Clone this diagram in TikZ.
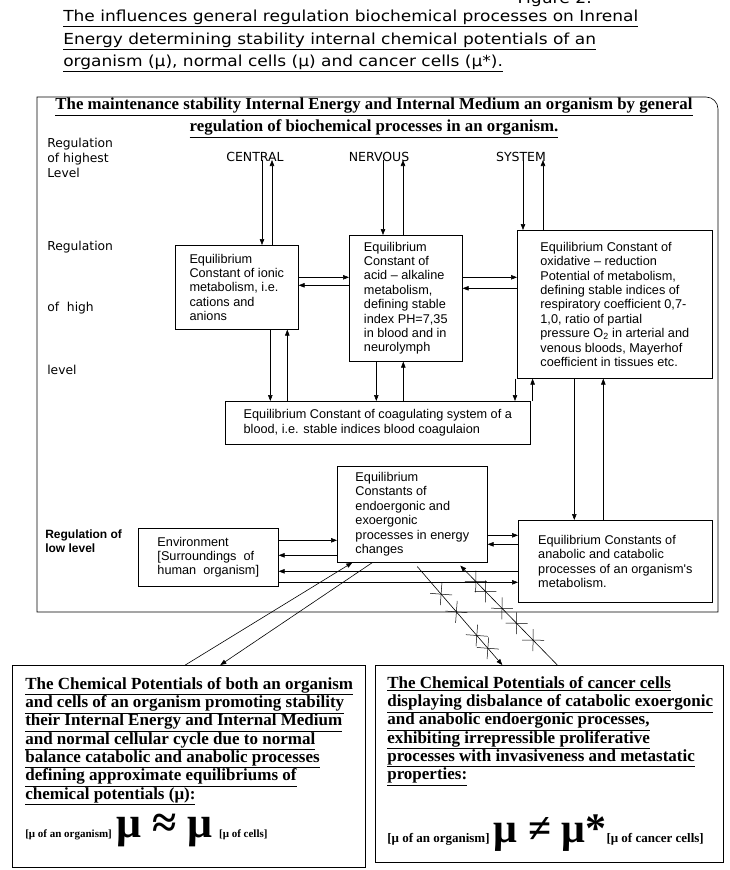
\documentclass[tikz,border=0pt]{standalone}
\usepackage{fontspec}
\setmainfont{Liberation Serif}
\newfontfamily\arialfont{Liberation Sans}
\newfontfamily\verdfont{DejaVu Sans}
\newfontfamily\titlefont[FakeStretch = 1.12]{DejaVu Sans}
\usetikzlibrary{positioning}
\usetikzlibrary{arrows.meta}
\usetikzlibrary{shapes.misc}

\tikzset{
    eqbox/.style = {draw, align = left, anchor = north west, inner sep = 0pt,
        font = {\arialfont\fontsize{12.7}{14.4}\selectfont}},
    rowlabel/.style = {anchor = west, align = left, inner sep = 0pt,
        font = {\verdfont\fontsize{12.3}{15}\selectfont}},
    cns/.style = {inner sep = 0pt, font = {\verdfont\fontsize{12.5}{14}\selectfont}},
    mubox/.style = {draw, anchor = north west, inner sep = 0pt},
    mutext/.style = {anchor = north west, align = left, inner sep = 0pt,
        font = {\bfseries\fontsize{17}{18.3}\selectfont}},
    xmark/.style = {cross out, draw, minimum size = 15pt, inner sep = 0pt, sloped, line width = 0.5pt},
}

\begin{document}
\begin{tikzpicture}
        [x = 1pt, y = -1pt, line width = 0.6pt,
        >={Triangle[length = 6pt, width = 4.5pt]}]
        \useasboundingbox (0, 0) rectangle (730, 870);
        % title of the figure
        \node (fig) [anchor = base east, inner sep = 0pt, font = {\titlefont\fontsize{15.3}{18}\selectfont}]
            at (592, 4) {Figure 2.};
        \node (title) [anchor = north west, align = left, inner sep = 0pt,
            font = {\titlefont\fontsize{15.2}{22.5}\selectfont}] at (63, 10)
            {\underline{The influences general regulation biochemical processes on Inrenal}\\
             \underline{Energy determining stability internal chemical potentials of an}\\
             \underline{organism (μ), normal cells (μ) and cancer cells (μ*).}};
        % frame of the organism
        \draw (37, 612) -- (37, 97) -- (706, 97) arc[start angle = -90, end angle = 0, radius = 12] -- (718, 612) -- cycle;
        \node (head) [align = center, inner sep = 0pt, font = {\bfseries\fontsize{16.8}{22}\selectfont}] at (374, 118)
            {\underline{The maintenance stability Internal Energy and Internal Medium an organism by general}\\
             \underline{regulation of biochemical processes in an organism.}};
        \node (highest) [rowlabel] at (47, 158) {Regulation\\of highest\\Level};
        \node (high1) [rowlabel] at (47, 247) {Regulation};
        \node (high2) [rowlabel] at (47, 308) {of\ \ high};
        \node (high3) [rowlabel] at (47, 370) {level};
        \node (low) [rowlabel, font = {\arialfont\bfseries\fontsize{12}{13.5}\selectfont}] at (45, 541) {Regulation of\\low level};
        \node (central) [cns] at (255, 157) {CENTRAL};
        \node (nervous) [cns] at (379, 157) {NERVOUS};
        \node (system) [cns] at (521, 157) {SYSTEM};
        % equilibrium constants
        \node (ionic) [eqbox, minimum width = 123pt, minimum height = 84pt] at (175, 245)
            {Equilibrium\\Constant of ionic\\metabolism, i.e.\\cations and\\anions};
        \node (acid) [eqbox, minimum width = 113pt, minimum height = 126pt] at (349, 235)
            {Equilibrium\\Constant of\\acid – alkaline\\metabolism,\\defining stable\\index PH=7,35\\in blood and in\\neurolymph};
        \node (oxid) [eqbox, minimum width = 195pt, minimum height = 148pt] at (517, 230)
            {Equilibrium Constant of\\oxidative – reduction\\Potential of metabolism,\\defining stable indices of\\respiratory coefficient 0,7-\\1,0, ratio of partial\\pressure O\textsubscript{2} in arterial and\\venous bloods, Mayerhof\\coefficient in tissues etc.};
        \node (coag) [eqbox, minimum width = 305pt, minimum height = 43pt] at (225, 401)
            {Equilibrium Constant of coagulating system of a\\blood, i.e. stable indices blood coagulaion};
        \node (energy) [eqbox, minimum width = 150pt, minimum height = 96pt] at (337, 466)
            {Equilibrium\\Constants of\\endoergonic and\\exoergonic\\processes in energy\\changes};
        \node (env) [eqbox, minimum width = 140pt, minimum height = 58pt] at (138, 528)
            {Environment\\{[}Surroundings\ \ of\\human\ \ organism{]}};
        \node (anabolic) [eqbox, minimum width = 194pt, minimum height = 82pt] at (518, 520)
            {Equilibrium Constants of\\anabolic and catabolic\\processes of an organism's\\metabolism.};
        % chemical potentials
        \node (normal) [mubox, minimum width = 353pt, minimum height = 202pt] at (12, 665) {};
        \node (normaltext) [mutext] at ([xshift = 13pt, yshift = -12pt]normal.north west)
            {\underline{The Chemical Potentials of both an organism}\\
             \underline{and cells of an organism promoting stability}\\
             \underline{their Internal Energy and Internal Medium}\\
             \underline{and normal cellular cycle due to normal}\\
             \underline{balance catabolic and anabolic processes}\\
             \underline{defining approximate equilibriums of}\\
             \underline{chemical potentials (μ):}\\[8pt]
             {\fontsize{11}{12}\selectfont[μ of an organism]}
             {\fontsize{44}{44}\selectfont μ ≈ μ}
             {\fontsize{11}{12}\selectfont\ [μ of cells]}};
        \node (cancer) [mubox, minimum width = 348pt, minimum height = 197pt] at (375, 665) {};
        \node (cancertext) [mutext] at ([xshift = 12pt, yshift = -11pt]cancer.north west)
            {\underline{The Chemical Potentials of cancer cells}\\
             \underline{displaying disbalance of catabolic exoergonic}\\
             \underline{and anabolic endoergonic processes,}\\
             \underline{exhibiting irrepressible proliferative}\\
             \underline{processes with invasiveness and metastatic}\\
             \underline{properties:}\\[28pt]
             {\fontsize{13}{14}\selectfont[μ of an organism]}
             {\fontsize{42}{42}\selectfont μ ≠ μ*}{\fontsize{13}{14}\selectfont[μ of cancer cells]}};
        % central nervous system
        \draw[->] ([xshift = 7pt, yshift = -3pt]central.center) -- ([xshift = 7pt]central.center |- ionic.north);
        \draw[->] ([xshift = 17pt]central.center |- ionic.north) -- ([xshift = 17pt, yshift = -3pt]central.center);
        \draw[->] ([xshift = 4pt, yshift = -3pt]nervous.center) -- ([xshift = 4pt]nervous.center |- acid.north);
        \draw[->] ([xshift = 24pt]nervous.center |- acid.north) -- ([xshift = 24pt, yshift = -3pt]nervous.center);
        \draw[->] ([xshift = 2pt, yshift = -3pt]system.center) -- ([xshift = 2pt]system.center |- oxid.north);
        \draw[->] ([xshift = 22pt]system.center |- oxid.north) -- ([xshift = 22pt, yshift = -3pt]system.center);
        % between the constants
        \draw[->] ([yshift = 10pt]ionic.east) -- ([yshift = 10pt]ionic.east -| acid.west);
        \draw[->] ([yshift = 2pt]ionic.east -| acid.west) -- ([yshift = 2pt]ionic.east);
        \draw[->] ([yshift = 27pt]oxid.west -| acid.east) -- ([yshift = 27pt]oxid.west);
        \draw[->] ([yshift = 16pt]oxid.west) -- ([yshift = 16pt]oxid.west -| acid.east);
        \draw[->] ([xshift = 33.5pt]ionic.south) -- ([xshift = 33.5pt]ionic.south |- coag.north);
        \draw[->] ([xshift = 50.5pt]ionic.south |- coag.north) -- ([xshift = 50.5pt]ionic.south);
        \draw[->] ([xshift = -29.5pt]acid.south) -- ([xshift = -29.5pt]acid.south |- coag.north);
        \draw[->] ([xshift = -2.5pt]acid.south |- coag.north) -- ([xshift = -2.5pt]acid.south);
        \draw[->] ([xshift = -2pt]oxid.south west) -- ([xshift = -2pt]oxid.south west |- coag.north);
        \draw[->] ([xshift = 2pt]coag.north east) -- ([xshift = 2pt]coag.north east |- oxid.south);
        \draw[->] ([xshift = -40.5pt]oxid.south) -- ([xshift = -40.5pt]oxid.south |- anabolic.north);
        \draw[->] ([xshift = -11.5pt]oxid.south |- anabolic.north) -- ([xshift = -11.5pt]oxid.south);
        % low level
        \draw[->] ([yshift = 17pt]env.east) -- ([yshift = 17pt]env.east -| energy.west);
        \draw[->] ([yshift = 2pt]env.east -| energy.west) -- ([yshift = 2pt]env.east);
        \draw[->] ([yshift = -14pt]env.east -| anabolic.west) -- ([yshift = -14pt]env.east);
        \draw[->] ([yshift = -25pt]env.east) -- ([yshift = -25pt]env.east -| anabolic.west);
        \draw[->] ([yshift = -21pt]energy.east) -- ([yshift = -21pt]energy.east -| anabolic.west);
        \draw[->] ([yshift = -30pt]energy.east -| anabolic.west) -- ([yshift = -30pt]energy.east);
        % to the chemical potentials
        \draw[->] ([xshift = -3.5pt]normal.north) -- ([xshift = -60pt]energy.south);
        \draw[->] ([xshift = -40pt]energy.south) -- ([xshift = 31.5pt]normal.north);
        \draw[->] ([xshift = 5pt, yshift = -4pt]energy.south) --
            node[xmark, pos = .28] {} node[xmark, pos = .46] {} node[xmark, pos = .7] {} node[xmark, pos = .83] {}
            ([xshift = -47pt]cancer.north);
        \draw[->] ([xshift = 8pt]cancer.north) --
            node[xmark, pos = .25] {} node[xmark, pos = .42] {} node[xmark, pos = .57] {} node[xmark, pos = .74] {} node[xmark, pos = .84] {}
            ([xshift = 48pt, yshift = -3pt]energy.south);
    \end{tikzpicture}
\end{document}
